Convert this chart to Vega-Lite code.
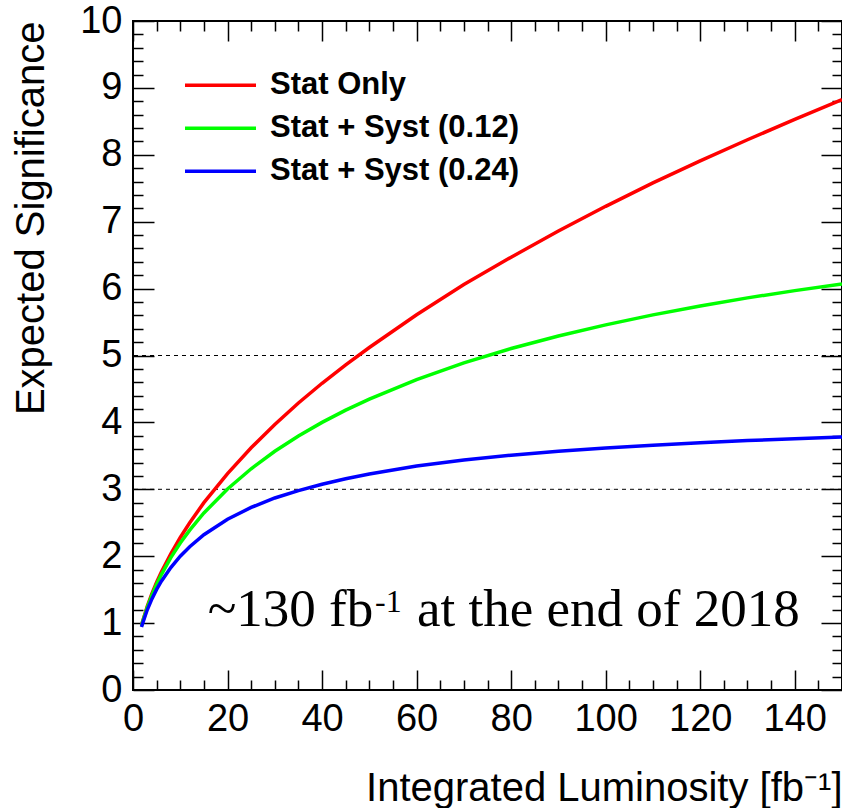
{
  "$schema": "https://vega.github.io/schema/vega-lite/v6.json",
  "width": 709,
  "height": 669,
  "autosize": {"type": "none"},
  "padding": {"left": 133, "top": 21, "right": 0, "bottom": 118},
  "background": "white",
  "config": {
    "view": {"stroke": "black", "strokeWidth": 2},
    "axis": {"grid": false, "domain": false, "tickColor": "black", "tickWidth": 1.5, "labelFont": "Liberation Sans", "titleFont": "Liberation Sans", "labelColor": "black", "titleColor": "black", "titleFontWeight": "normal"}
  },
  "datasets": {
    "curves": [
      {"series": "Stat Only", "lumi": 1.8, "sig": 0.966},
      {"series": "Stat Only", "lumi": 2, "sig": 1.018},
      {"series": "Stat Only", "lumi": 3, "sig": 1.247},
      {"series": "Stat Only", "lumi": 4, "sig": 1.44},
      {"series": "Stat Only", "lumi": 5, "sig": 1.61},
      {"series": "Stat Only", "lumi": 6, "sig": 1.764},
      {"series": "Stat Only", "lumi": 8, "sig": 2.036},
      {"series": "Stat Only", "lumi": 10, "sig": 2.28},
      {"series": "Stat Only", "lumi": 12, "sig": 2.5},
      {"series": "Stat Only", "lumi": 15, "sig": 2.8},
      {"series": "Stat Only", "lumi": 20, "sig": 3.235},
      {"series": "Stat Only", "lumi": 25, "sig": 3.62},
      {"series": "Stat Only", "lumi": 30, "sig": 3.97},
      {"series": "Stat Only", "lumi": 35, "sig": 4.29},
      {"series": "Stat Only", "lumi": 40, "sig": 4.585},
      {"series": "Stat Only", "lumi": 45, "sig": 4.86},
      {"series": "Stat Only", "lumi": 50, "sig": 5.12},
      {"series": "Stat Only", "lumi": 60, "sig": 5.61},
      {"series": "Stat Only", "lumi": 70, "sig": 6.06},
      {"series": "Stat Only", "lumi": 80, "sig": 6.47},
      {"series": "Stat Only", "lumi": 90, "sig": 6.86},
      {"series": "Stat Only", "lumi": 100, "sig": 7.23},
      {"series": "Stat Only", "lumi": 110, "sig": 7.58},
      {"series": "Stat Only", "lumi": 120, "sig": 7.91},
      {"series": "Stat Only", "lumi": 130, "sig": 8.225},
      {"series": "Stat Only", "lumi": 140, "sig": 8.53},
      {"series": "Stat Only", "lumi": 150, "sig": 8.825},
      {"series": "Stat + Syst (0.12)", "lumi": 1.8, "sig": 0.96},
      {"series": "Stat + Syst (0.12)", "lumi": 2, "sig": 1.011},
      {"series": "Stat + Syst (0.12)", "lumi": 3, "sig": 1.233},
      {"series": "Stat + Syst (0.12)", "lumi": 4, "sig": 1.419},
      {"series": "Stat + Syst (0.12)", "lumi": 5, "sig": 1.581},
      {"series": "Stat + Syst (0.12)", "lumi": 6, "sig": 1.726},
      {"series": "Stat + Syst (0.12)", "lumi": 8, "sig": 1.978},
      {"series": "Stat + Syst (0.12)", "lumi": 10, "sig": 2.197},
      {"series": "Stat + Syst (0.12)", "lumi": 12, "sig": 2.39},
      {"series": "Stat + Syst (0.12)", "lumi": 15, "sig": 2.646},
      {"series": "Stat + Syst (0.12)", "lumi": 20, "sig": 3.005},
      {"series": "Stat + Syst (0.12)", "lumi": 25, "sig": 3.307},
      {"series": "Stat + Syst (0.12)", "lumi": 30, "sig": 3.568},
      {"series": "Stat + Syst (0.12)", "lumi": 35, "sig": 3.797},
      {"series": "Stat + Syst (0.12)", "lumi": 40, "sig": 4.0},
      {"series": "Stat + Syst (0.12)", "lumi": 45, "sig": 4.183},
      {"series": "Stat + Syst (0.12)", "lumi": 50, "sig": 4.349},
      {"series": "Stat + Syst (0.12)", "lumi": 60, "sig": 4.641},
      {"series": "Stat + Syst (0.12)", "lumi": 70, "sig": 4.889},
      {"series": "Stat + Syst (0.12)", "lumi": 80, "sig": 5.104},
      {"series": "Stat + Syst (0.12)", "lumi": 90, "sig": 5.292},
      {"series": "Stat + Syst (0.12)", "lumi": 100, "sig": 5.458},
      {"series": "Stat + Syst (0.12)", "lumi": 110, "sig": 5.607},
      {"series": "Stat + Syst (0.12)", "lumi": 120, "sig": 5.74},
      {"series": "Stat + Syst (0.12)", "lumi": 130, "sig": 5.861},
      {"series": "Stat + Syst (0.12)", "lumi": 140, "sig": 5.97},
      {"series": "Stat + Syst (0.12)", "lumi": 150, "sig": 6.07},
      {"series": "Stat + Syst (0.24)", "lumi": 1.8, "sig": 0.941},
      {"series": "Stat + Syst (0.24)", "lumi": 2, "sig": 0.989},
      {"series": "Stat + Syst (0.24)", "lumi": 3, "sig": 1.195},
      {"series": "Stat + Syst (0.24)", "lumi": 4, "sig": 1.362},
      {"series": "Stat + Syst (0.24)", "lumi": 5, "sig": 1.503},
      {"series": "Stat + Syst (0.24)", "lumi": 6, "sig": 1.626},
      {"series": "Stat + Syst (0.24)", "lumi": 8, "sig": 1.831},
      {"series": "Stat + Syst (0.24)", "lumi": 10, "sig": 2.0},
      {"series": "Stat + Syst (0.24)", "lumi": 12, "sig": 2.142},
      {"series": "Stat + Syst (0.24)", "lumi": 15, "sig": 2.321},
      {"series": "Stat + Syst (0.24)", "lumi": 20, "sig": 2.552},
      {"series": "Stat + Syst (0.24)", "lumi": 25, "sig": 2.729},
      {"series": "Stat + Syst (0.24)", "lumi": 30, "sig": 2.87},
      {"series": "Stat + Syst (0.24)", "lumi": 35, "sig": 2.98},
      {"series": "Stat + Syst (0.24)", "lumi": 40, "sig": 3.075},
      {"series": "Stat + Syst (0.24)", "lumi": 45, "sig": 3.158},
      {"series": "Stat + Syst (0.24)", "lumi": 50, "sig": 3.23},
      {"series": "Stat + Syst (0.24)", "lumi": 60, "sig": 3.347},
      {"series": "Stat + Syst (0.24)", "lumi": 70, "sig": 3.437},
      {"series": "Stat + Syst (0.24)", "lumi": 80, "sig": 3.509},
      {"series": "Stat + Syst (0.24)", "lumi": 90, "sig": 3.569},
      {"series": "Stat + Syst (0.24)", "lumi": 100, "sig": 3.618},
      {"series": "Stat + Syst (0.24)", "lumi": 110, "sig": 3.66},
      {"series": "Stat + Syst (0.24)", "lumi": 120, "sig": 3.697},
      {"series": "Stat + Syst (0.24)", "lumi": 130, "sig": 3.728},
      {"series": "Stat + Syst (0.24)", "lumi": 140, "sig": 3.756},
      {"series": "Stat + Syst (0.24)", "lumi": 150, "sig": 3.781}
    ]
  },
  "layer": [
    {
      "data": {"values": [{"level": 3}, {"level": 5}]},
      "mark": {"type": "rule", "strokeDash": [4, 4], "strokeWidth": 1, "color": "black"},
      "encoding": {
        "y": {"field": "level", "type": "quantitative", "scale": {"domain": [0, 10], "nice": false},
          "axis": {"orient": "left", "values": [0.2,0.4,0.6,0.8,1.2,1.4,1.6,1.8,2.2,2.4,2.6,2.8,3.2,3.4,3.6,3.8,4.2,4.4,4.6,4.8,5.2,5.4,5.6,5.8,6.2,6.4,6.6,6.8,7.2,7.4,7.6,7.8,8.2,8.4,8.6,8.8,9.2,9.4,9.6,9.8], "tickSize": -10, "labels": false, "title": null}}
      }
    },
    {
      "data": {"name": "curves"},
      "mark": {"type": "line", "strokeWidth": 3.5, "clip": true},
      "encoding": {
        "x": {"field": "lumi", "type": "quantitative", "scale": {"domain": [0, 150], "nice": false, "zero": false},
          "axis": {"orient": "bottom", "values": [0, 20, 40, 60, 80, 100, 120, 140], "tickSize": -20, "labelPadding": 30, "labelFontSize": 38, "labelFlush": false, "labelOverlap": false,
            "title": "Integrated Luminosity [fb⁻¹]", "titleFontSize": 40, "titleX": 709, "titleY": 110, "titleAlign": "right", "titleBaseline": "alphabetic"}},
        "y": {"field": "sig", "type": "quantitative", "scale": {"domain": [0, 10], "nice": false},
          "axis": {"orient": "left", "values": [0, 1, 2, 3, 4, 5, 6, 7, 8, 9, 10], "tickSize": -21, "labelPadding": 32, "labelFontSize": 38, "labelOverlap": false, "labelFlush": false,
            "title": "Expected Significance", "titleFontSize": 40, "titleAngle": 270, "titleX": -90, "titleY": 0, "titleAlign": "right", "titleBaseline": "alphabetic"}},
        "color": {"field": "series", "type": "nominal",
          "scale": {"domain": ["Stat Only", "Stat + Syst (0.12)", "Stat + Syst (0.24)"], "range": ["#ff0000", "#00ff00", "#0000ff"]},
          "legend": {"orient": "none", "legendX": 50, "legendY": 43, "title": null, "symbolType": "stroke", "symbolSize": 5041, "symbolStrokeWidth": 3.5, "clipHeight": 42.5,
            "labelFontSize": 31, "labelFont": "Liberation Sans", "labelFontWeight": "bold", "labelColor": "black", "labelOffset": 12, "rowPadding": 0, "padding": 0, "labelLimit": 500}}
      }
    },
    {
      "data": {"name": "curves"},
      "mark": {"type": "point", "opacity": 0},
      "encoding": {
        "x": {"field": "lumi", "type": "quantitative",
          "axis": {"orient": "bottom", "values": [5,10,15,25,30,35,45,50,55,65,70,75,85,90,95,105,110,115,125,130,135,145], "tickSize": -10, "labels": false, "title": null}},
        "y": {"field": "sig", "type": "quantitative",
          "axis": {"orient": "right", "values": [0, 1, 2, 3, 4, 5, 6, 7, 8, 9, 10], "tickSize": -21, "labels": false, "title": null}}
      }
    },
    {
      "data": {"name": "curves"},
      "mark": {"type": "point", "opacity": 0},
      "encoding": {
        "x": {"field": "lumi", "type": "quantitative",
          "axis": {"orient": "top", "values": [0, 20, 40, 60, 80, 100, 120, 140], "tickSize": -20, "labels": false, "title": null}},
        "y": {"field": "sig", "type": "quantitative",
          "axis": {"orient": "right", "values": [0.2,0.4,0.6,0.8,1.2,1.4,1.6,1.8,2.2,2.4,2.6,2.8,3.2,3.4,3.6,3.8,4.2,4.4,4.6,4.8,5.2,5.4,5.6,5.8,6.2,6.4,6.6,6.8,7.2,7.4,7.6,7.8,8.2,8.4,8.6,8.8,9.2,9.4,9.6,9.8], "tickSize": -10, "labels": false, "title": null}}
      }
    },
    {
      "data": {"name": "curves"},
      "mark": {"type": "point", "opacity": 0},
      "encoding": {
        "x": {"field": "lumi", "type": "quantitative",
          "axis": {"orient": "top", "values": [5,10,15,25,30,35,45,50,55,65,70,75,85,90,95,105,110,115,125,130,135,145], "tickSize": -10, "labels": false, "title": null}},
        "y": {"field": "sig", "type": "quantitative", "axis": null}
      }
    },
    {
      "data": {"values": [{"note": "~130 fb"}]},
      "mark": {"type": "text", "font": "Liberation Serif", "fontSize": 53, "align": "left", "baseline": "alphabetic", "color": "black"},
      "encoding": {
        "x": {"datum": 15.8, "type": "quantitative", "axis": null},
        "y": {"datum": 0.95, "type": "quantitative", "axis": null},
        "text": {"field": "note"}
      }
    },
    {
      "data": {"values": [{"note": "-1"}]},
      "mark": {"type": "text", "font": "Liberation Serif", "fontSize": 32, "align": "left", "baseline": "alphabetic", "color": "black"},
      "encoding": {
        "x": {"datum": 51.2, "type": "quantitative", "axis": null},
        "y": {"datum": 1.17, "type": "quantitative", "axis": null},
        "text": {"field": "note"}
      }
    },
    {
      "data": {"values": [{"note": "at the end of 2018"}]},
      "mark": {"type": "text", "font": "Liberation Serif", "fontSize": 53, "align": "left", "baseline": "alphabetic", "color": "black"},
      "encoding": {
        "x": {"datum": 60.1, "type": "quantitative", "axis": null},
        "y": {"datum": 0.95, "type": "quantitative", "axis": null},
        "text": {"field": "note"}
      }
    }
  ],
  "resolve": {"axis": {"x": "independent", "y": "independent"}}
}
